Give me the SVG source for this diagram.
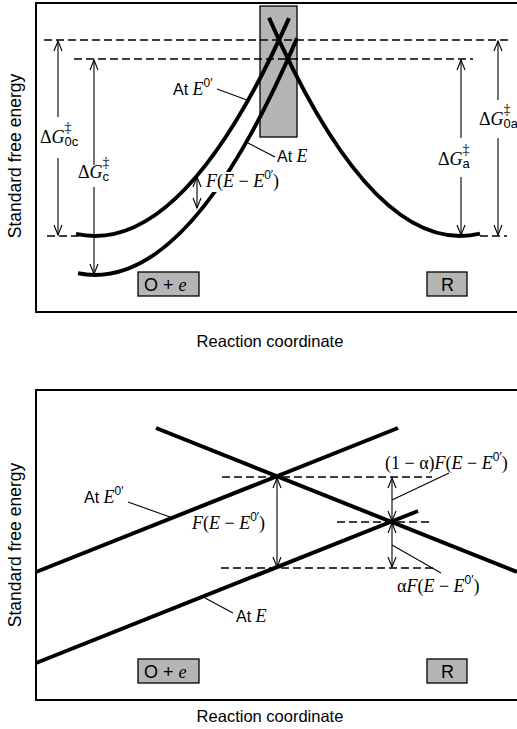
<svg xmlns="http://www.w3.org/2000/svg" width="517" height="729" viewBox="0 0 517 729">
<style>
.frame{fill:none;stroke:#000;stroke-width:2}
.curve{fill:none;stroke:#000;stroke-width:4}
.dash{fill:none;stroke:#000;stroke-width:1.3;stroke-dasharray:8 4}
.arr{fill:none;stroke:#000;stroke-width:1.1}
.lead{fill:none;stroke:#000;stroke-width:1.1}
.box{fill:#b5b5b5;stroke:#000;stroke-width:1.3}
.sans{font-family:"Liberation Sans",Arial,sans-serif;fill:#000}
.serif{font-family:"Liberation Serif","Times New Roman",serif;fill:#000}
.it{font-style:italic}
</style>
<defs>
<marker id="ah" markerWidth="12" markerHeight="10" refX="10" refY="4" orient="auto-start-reverse" markerUnits="userSpaceOnUse" overflow="visible">
<path d="M0,0 L10,4 L0,8" fill="none" stroke="#000" stroke-width="1.1"/>
</marker>
</defs>

<!-- ===== TOP PANEL ===== -->
<g id="top-frame"><path class="frame" d="M517,3 L36,3 L36,312 L517,312"/></g>
<g id="transition-box"><rect class="box" x="260" y="6" width="37" height="131"/></g>
<g id="top-O-box"><rect class="box" x="138" y="272" width="61" height="24"/><text class="sans" x="144" y="291" font-size="18">O + <tspan class="serif it">e</tspan></text></g>
<g id="top-R-box"><rect class="box" x="427" y="272" width="40" height="24"/><text class="sans" x="441" y="291" font-size="18">R</text></g>

<g id="top-connectors">
<line class="dash" x1="44" y1="40" x2="510" y2="40"/>
<line class="dash" x1="74" y1="59" x2="473" y2="59"/>
<line class="dash" x1="47" y1="236" x2="80" y2="236"/>
<line class="dash" x1="480" y1="236" x2="507" y2="236"/>
<path class="curve" d="M76,233.9 Q182.5,257.3 289,18.1"/>
<path class="curve" d="M78,273.3 Q187.5,294.9 297,38.3"/>
<path class="curve" d="M269,17.8 Q374.5,258.8 480,233.6"/>
<line class="arr" x1="58" y1="117" x2="58" y2="41" marker-end="url(#ah)"/>
<line class="arr" x1="58" y1="158" x2="58" y2="235" marker-end="url(#ah)"/>
<line class="arr" x1="94" y1="165" x2="94" y2="60" marker-end="url(#ah)"/>
<line class="arr" x1="94" y1="187" x2="94" y2="274" marker-end="url(#ah)"/>
<line class="arr" x1="461" y1="138" x2="461" y2="60" marker-end="url(#ah)"/>
<line class="arr" x1="461" y1="177" x2="461" y2="235" marker-end="url(#ah)"/>
<line class="arr" x1="498" y1="100" x2="498" y2="41" marker-end="url(#ah)"/>
<line class="arr" x1="498" y1="138" x2="498" y2="235" marker-end="url(#ah)"/>
<line class="arr" x1="197" y1="177" x2="197" y2="208" marker-start="url(#ah)" marker-end="url(#ah)"/>
<line class="lead" x1="217" y1="89" x2="247" y2="100"/>
<line class="lead" x1="248" y1="143" x2="275" y2="157"/>
</g>

<g id="top-labels">
<text class="serif" x="40" y="143" font-size="18">Δ<tspan class="it">G</tspan><tspan font-size="14" dy="-11">‡</tspan><tspan class="sans" font-size="13" dx="-7" dy="14">0c</tspan></text>
<text class="serif" x="78" y="178" font-size="18">Δ<tspan class="it">G</tspan><tspan font-size="14" dy="-11">‡</tspan><tspan class="sans" font-size="13" dx="-7" dy="14">c</tspan></text>
<text class="serif" x="438" y="165" font-size="18">Δ<tspan class="it">G</tspan><tspan font-size="14" dy="-11">‡</tspan><tspan class="sans" font-size="13" dx="-7" dy="14">a</tspan></text>
<text class="serif" x="479" y="125" font-size="18">Δ<tspan class="it">G</tspan><tspan font-size="14" dy="-11">‡</tspan><tspan class="sans" font-size="13" dx="-7" dy="14">0a</tspan></text>
<text class="sans" x="173" y="95" font-size="16">At <tspan class="serif it" font-size="18">E</tspan><tspan font-size="12" dy="-8">0′</tspan></text>
<text class="sans" x="277" y="162" font-size="16">At <tspan class="serif it" font-size="18">E</tspan></text>
<rect x="205" y="172" width="84" height="20" fill="#fff"/>
<text class="serif" x="206" y="187" font-size="18"><tspan class="it">F</tspan>(<tspan class="it">E</tspan> − <tspan class="it">E</tspan><tspan class="sans" font-size="12" dy="-8">0′</tspan><tspan dy="8">)</tspan></text>
<text class="sans" x="-156" y="21" font-size="17.5" transform="rotate(-90)" text-anchor="middle">Standard free energy</text>
<text class="sans" x="270" y="347" font-size="16.5" text-anchor="middle">Reaction coordinate</text>
</g>

<!-- ===== BOTTOM PANEL ===== -->
<g id="bottom-frame"><path class="frame" d="M517,390 L36,390 L36,700 L517,700"/></g>
<g id="bottom-O-box"><rect class="box" x="138" y="659" width="61" height="24"/><text class="sans" x="144" y="678" font-size="18">O + <tspan class="serif it">e</tspan></text></g>
<g id="bottom-R-box"><rect class="box" x="427" y="659" width="40" height="24"/><text class="sans" x="441" y="678" font-size="18">R</text></g>

<g id="bottom-connectors">
<line class="dash" x1="222" y1="477" x2="432" y2="477"/>
<line class="dash" x1="337" y1="522" x2="430" y2="522"/>
<line class="dash" x1="221" y1="568" x2="435" y2="568"/>
<line class="curve" x1="156" y1="428" x2="517" y2="572"/>
<line class="curve" x1="36" y1="572" x2="398" y2="428"/>
<line class="curve" x1="36" y1="663" x2="418" y2="511"/>
<line class="arr" x1="277" y1="478" x2="277" y2="567" marker-start="url(#ah)" marker-end="url(#ah)"/>
<line class="arr" x1="392" y1="478" x2="392" y2="521" marker-start="url(#ah)" marker-end="url(#ah)"/>
<line class="arr" x1="392" y1="523" x2="392" y2="567" marker-start="url(#ah)" marker-end="url(#ah)"/>
<line class="lead" x1="392" y1="500" x2="449" y2="473"/>
<line class="lead" x1="392" y1="545" x2="441" y2="573"/>
<line class="lead" x1="128" y1="502" x2="170" y2="517"/>
<line class="lead" x1="205" y1="598" x2="233" y2="613"/>
</g>

<g id="bottom-labels">
<text class="sans" x="84" y="503" font-size="16">At <tspan class="serif it" font-size="18">E</tspan><tspan font-size="12" dy="-8">0′</tspan></text>
<text class="sans" x="236" y="622" font-size="16">At <tspan class="serif it" font-size="18">E</tspan></text>
<text class="serif" x="192" y="529" font-size="18"><tspan class="it">F</tspan>(<tspan class="it">E</tspan> − <tspan class="it">E</tspan><tspan class="sans" font-size="12" dy="-8">0′</tspan><tspan dy="8">)</tspan></text>
<text class="serif" x="385" y="469" font-size="18">(1 − α)<tspan class="it">F</tspan>(<tspan class="it">E</tspan> − <tspan class="it">E</tspan><tspan class="sans" font-size="12" dy="-8">0′</tspan><tspan dy="8">)</tspan></text>
<text class="serif" x="397" y="592" font-size="18">α<tspan class="it">F</tspan>(<tspan class="it">E</tspan> − <tspan class="it">E</tspan><tspan class="sans" font-size="12" dy="-8">0′</tspan><tspan dy="8">)</tspan></text>
<text class="sans" x="-545" y="21" font-size="17.5" transform="rotate(-90)" text-anchor="middle">Standard free energy</text>
<text class="sans" x="270" y="722" font-size="16.5" text-anchor="middle">Reaction coordinate</text>
</g>
</svg>
